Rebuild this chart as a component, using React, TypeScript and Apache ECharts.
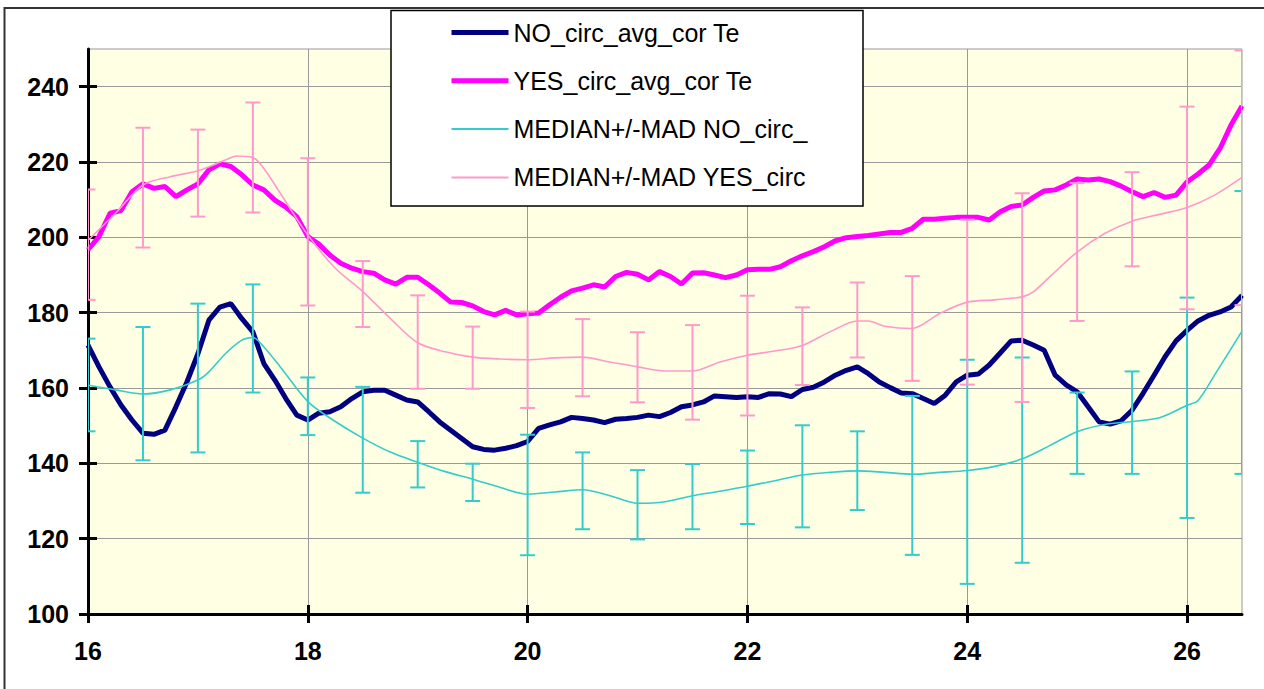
import React, { useEffect, useRef } from "react";
import * as echarts from "echarts";

const FONT = "'Liberation Sans', Arial, Helvetica, sans-serif";

// Hours of the thick average curves (16.0 .. 26.5, step 0.1)
const avgHours = [
  16.0, 16.1, 16.2, 16.3, 16.4, 16.5, 16.6, 16.7, 16.8, 16.9,
  17.0, 17.1, 17.2, 17.3, 17.4, 17.5, 17.6, 17.7, 17.8, 17.9,
  18.0, 18.1, 18.2, 18.3, 18.4, 18.5, 18.6, 18.7, 18.8, 18.9,
  19.0, 19.1, 19.2, 19.3, 19.4, 19.5, 19.6, 19.7, 19.8, 19.9,
  20.0, 20.1, 20.2, 20.3, 20.4, 20.5, 20.6, 20.7, 20.8, 20.9,
  21.0, 21.1, 21.2, 21.3, 21.4, 21.5, 21.6, 21.7, 21.8, 21.9,
  22.0, 22.1, 22.2, 22.3, 22.4, 22.5, 22.6, 22.7, 22.8, 22.9,
  23.0, 23.1, 23.2, 23.3, 23.4, 23.5, 23.6, 23.7, 23.8, 23.9,
  24.0, 24.1, 24.2, 24.3, 24.4, 24.5, 24.6, 24.7, 24.8, 24.9,
  25.0, 25.1, 25.2, 25.3, 25.4, 25.5, 25.6, 25.7, 25.8, 25.9,
  26.0, 26.1, 26.2, 26.3, 26.4, 26.5,
];

const noAvg = [
  171.4, 165.6, 160.3, 155.5, 151.5, 148.0, 147.7, 148.8, 155.0, 161.6,
  169.1, 178.0, 181.5, 182.4, 178.4, 174.9, 166.5, 162.1, 157.2, 152.8,
  151.5, 153.3, 153.7, 155.0, 157.2, 159.0, 159.4, 159.4, 158.1, 156.8,
  156.3, 153.7, 151.0, 148.8, 146.6, 144.4, 143.7, 143.5, 144.0, 144.7,
  145.8, 149.3, 150.2, 151.0, 152.2, 151.9, 151.5, 150.8, 151.7, 151.9,
  152.2, 152.8, 152.4, 153.5, 155.0, 155.5, 156.3, 157.9, 157.7, 157.5,
  157.7, 157.5, 158.5, 158.4, 157.7, 159.6, 160.2, 161.6, 163.4, 164.7,
  165.6, 163.8, 161.6, 160.1, 158.7, 158.5, 157.2, 155.9, 158.1, 161.6,
  163.4, 163.7, 166.1, 169.3, 172.5, 172.7, 171.4, 170.0, 163.4, 160.8,
  159.0, 155.0, 151.0, 150.4, 151.3, 154.1, 158.6, 163.4, 168.3, 172.5,
  175.3, 177.8, 179.3, 180.2, 181.5, 184.6,
];

const yesAvg = [
  196.7, 200.2, 206.4, 207.1, 212.1, 214.2, 213.0, 213.5, 210.8, 212.6,
  214.2, 217.9, 219.5, 218.8, 216.6, 213.9, 212.6, 209.9, 208.0, 205.5,
  200.2, 198.2, 195.3, 193.1, 191.8, 190.9, 190.5, 188.7, 187.6, 189.4,
  189.4, 187.4, 185.2, 182.8, 182.7, 181.8, 180.3, 179.4, 180.6, 179.4,
  179.7, 179.9, 182.1, 184.1, 185.8, 186.5, 187.4, 186.8, 189.6, 190.7,
  190.2, 188.7, 190.9, 189.6, 187.6, 190.5, 190.6, 190.0, 189.3, 190.0,
  191.4, 191.5, 191.5, 192.2, 193.8, 195.1, 196.2, 197.5, 199.1, 199.9,
  200.2, 200.5, 200.9, 201.3, 201.3, 202.4, 204.8, 204.8, 205.1, 205.3,
  205.3, 205.3, 204.6, 206.8, 208.2, 208.6, 210.6, 212.3, 212.6, 213.9,
  215.5, 215.2, 215.5, 214.8, 213.6, 212.1, 210.8, 211.9, 210.6, 211.2,
  214.7, 216.8, 219.2, 223.6, 229.8, 234.9,
];

// Median curves
const noMedHours = [
  16, 16.25, 16.5, 16.75, 17, 17.1, 17.25, 17.4, 17.5, 17.6, 17.75, 18, 18.25, 18.5, 18.75,
  19, 19.25, 19.5, 19.75, 20, 20.25, 20.5, 20.75, 21, 21.25, 21.5, 21.75, 22, 22.25, 22.5,
  22.75, 23, 23.25, 23.5, 23.75, 24, 24.25, 24.5, 24.75, 25, 25.25, 25.5, 25.75, 26, 26.1,
  26.25, 26.5,
];
const noMedian = [
  160.8, 159.5, 158.4, 159.5, 162.1, 164.3, 169.1, 172.7, 173.4, 170.9, 165.6, 156.4, 151.1, 146.7, 143.0,
  140.3, 137.8, 135.8, 133.6, 131.8, 132.4, 133.0, 131.4, 129.4, 129.8, 131.4, 132.6, 133.9, 135.4, 136.9,
  137.6, 138.0, 137.6, 137.1, 137.6, 138.1, 139.2, 141.2, 144.7, 148.4, 150.3, 151.1, 152.1, 155.4, 156.7,
  163.4, 175.1,
];

const yesMedHours = [
  16, 16.25, 16.5, 16.75, 17, 17.25, 17.35, 17.5, 17.6, 17.75, 18, 18.25, 18.5, 18.75, 19,
  19.25, 19.5, 19.75, 20, 20.25, 20.5, 20.75, 21, 21.25, 21.5, 21.75, 22, 22.25, 22.5, 22.75,
  23, 23.1, 23.25, 23.5, 23.75, 24, 24.25, 24.5, 24.6, 24.75, 25, 25.25, 25.5, 25.75, 26,
  26.25, 26.5,
];
const yesMedian = [
  199.2, 206.4, 213.9, 216.1, 217.7, 220.5, 221.6, 221.2, 218.3, 211.7, 200.6, 191.8, 185.6, 178.5, 172.0,
  169.6, 168.2, 167.7, 167.5, 168.0, 168.2, 166.9, 165.6, 164.5, 164.5, 166.9, 168.7, 169.8, 171.3, 174.9,
  177.8, 177.8, 176.4, 175.8, 179.8, 182.8, 183.4, 184.2, 185.5, 189.5, 196.1, 201.0, 204.3, 206.1, 207.9,
  211.2, 215.9,
];

// Error bars (median +/- MAD), every half hour
const barHours = [
  16, 16.5, 17, 17.5, 18, 18.5, 19, 19.5, 20, 20.5, 21,
  21.5, 22, 22.5, 23, 23.5, 24, 24.5, 25, 25.5, 26, 26.5,
];
const noHigh = [
  173.1, 176.2, 182.4, 187.5, 162.8, 160.3, 145.9, 139.9, 147.6, 142.9, 138.2,
  139.8, 143.4, 150.1, 148.5, 157.9, 167.5, 168.1, 158.8, 164.4, 184.0, 212.3,
];
const noLow = [
  148.5, 140.8, 142.9, 158.8, 147.5, 132.2, 133.6, 130.0, 115.6, 122.5, 119.8,
  122.5, 123.9, 123.0, 127.6, 115.7, 108.0, 113.6, 137.2, 137.2, 125.5, 137.2,
];
const yesHigh = [
  212.7, 229.1, 228.6, 235.8, 221.0, 193.7, 184.6, 176.3, 180.3, 178.3, 174.8,
  176.7, 184.5, 181.4, 188.0, 189.7, 204.7, 211.7, 214.4, 217.3, 234.7, 249.6,
];
const yesLow = [
  183.4, 197.3, 205.5, 206.6, 181.9, 176.2, 159.8, 159.8, 154.7, 157.8, 156.2,
  151.6, 152.7, 160.8, 168.1, 161.9, 160.9, 156.3, 177.8, 192.3, 180.9, 182.0,
];

const xTicks = [16, 18, 20, 22, 24, 26];
const yTicks = [100, 120, 140, 160, 180, 200, 220, 240];

const names = [
  "NO_circ_avg_cor Te",
  "YES_circ_avg_cor Te",
  "MEDIAN+/-MAD NO_circ_",
  "MEDIAN+/-MAD YES_circ",
];

const NAVY = "#000080";
const MAGENTA = "#FF00FF";
const CYAN = "#33CCCC";
const PINK = "#FF99CC";

function errorBarSeries(name: string, color: string, lo: number[], hi: number[]) {
  return {
    name,
    type: "custom",
    clip: true,
    z: 4,
    encode: { x: 0, y: [1, 2] },
    data: barHours.map((h, i) => [h, lo[i], hi[i]]),
    renderItem: (_params: any, api: any) => {
      const x = api.value(0);
      const p1 = api.coord([x, api.value(1)]);
      const p2 = api.coord([x, api.value(2)]);
      const style = { stroke: color, lineWidth: 2, fill: "none" };
      const w = 7.5;
      return {
        type: "group",
        children: [
          { type: "line", shape: { x1: p1[0], y1: p1[1], x2: p2[0], y2: p2[1] }, style },
          { type: "line", shape: { x1: p1[0] - w, y1: p1[1], x2: p1[0] + w, y2: p1[1] }, style },
          { type: "line", shape: { x1: p2[0] - w, y1: p2[1], x2: p2[0] + w, y2: p2[1] }, style },
        ],
      };
    },
  };
}

export default function App() {
  const ref = useRef<HTMLDivElement>(null);
  useEffect(() => {
    const chart = echarts.init(ref.current!, undefined, { renderer: "svg" });
    const labelStyle = {
      fontSize: 25,
      fontWeight: "bold",
      color: "#000",
      fontFamily: FONT,
    };
    chart.setOption({
      animation: false,
      backgroundColor: "#ffffff",
      grid: {
        left: 88,
        top: 49,
        right: 22,
        bottom: 75,
        show: true,
        backgroundColor: "#FFFFE3",
        borderColor: "#999999",
        borderWidth: 1,
      },
      xAxis: [
        {
          type: "value",
          min: 16,
          max: 26.5,
          interval: 2,
          position: "bottom",
          axisLine: { show: true, onZero: false, lineStyle: { color: "#000", width: 3 } },
          axisTick: { show: true, length: 9, customValues: xTicks, lineStyle: { color: "#000", width: 3 } },
          axisLabel: { ...labelStyle, margin: 24, customValues: xTicks },
          splitLine: { show: true, lineStyle: { color: "#999999", width: 1 } },
        },
        {
          type: "value",
          min: 16,
          max: 26.5,
          interval: 2,
          position: "bottom",
          axisLine: { show: false },
          axisTick: {
            show: true,
            inside: true,
            length: 9,
            customValues: xTicks.slice(1),
            lineStyle: { color: "#000", width: 3 },
          },
          axisLabel: { show: false },
          splitLine: { show: false },
        },
      ],
      yAxis: [
        {
          type: "value",
          min: 100,
          max: 250,
          interval: 20,
          position: "left",
          axisLine: { show: true, onZero: false, lineStyle: { color: "#000", width: 3 } },
          axisTick: { show: true, length: 9, customValues: yTicks, lineStyle: { color: "#000", width: 3 } },
          axisLabel: { ...labelStyle, margin: 19, customValues: yTicks },
          splitLine: { show: true, lineStyle: { color: "#999999", width: 1 } },
        },
        {
          type: "value",
          min: 100,
          max: 250,
          interval: 20,
          position: "left",
          axisLine: { show: false },
          axisTick: {
            show: true,
            inside: true,
            length: 9,
            customValues: yTicks.slice(1),
            lineStyle: { color: "#000", width: 3 },
          },
          axisLabel: { show: false },
          splitLine: { show: false },
        },
      ],
      legend: {
        orient: "vertical",
        left: 449,
        top: 18.5,
        padding: 0,
        itemWidth: 57,
        itemHeight: 2,
        itemGap: 20.3,
        selectedMode: false,
        z: 20,
        itemStyle: { opacity: 0 },
        textStyle: { fontSize: 25, fontFamily: FONT, color: "#000", lineHeight: 28 },
        data: [
          { name: names[0], lineStyle: { width: 5 } },
          { name: names[1], lineStyle: { width: 5 } },
          { name: names[2], lineStyle: { width: 2 } },
          { name: names[3], lineStyle: { width: 2 } },
        ],
      },
      graphic: [
        {
          type: "rect",
          silent: true,
          z: 30,
          shape: { x: 4.5, y: 8, width: 1400, height: 800 },
          style: { fill: "none", stroke: "#333", lineWidth: 2 },
        },
        {
          type: "rect",
          silent: true,
          z: 10,
          shape: { x: 391, y: 10.5, width: 472, height: 195.5 },
          style: { fill: "#ffffff", stroke: "#000", lineWidth: 1.5 },
        },
      ],
      series: [
        {
          name: names[0],
          type: "line",
          symbol: "none",
          showSymbol: false,
          z: 2,
          data: avgHours.map((h, i) => [h, noAvg[i]]),
          lineStyle: { color: NAVY, width: 5 },
          itemStyle: { color: NAVY },
        },
        {
          name: names[1],
          type: "line",
          symbol: "none",
          showSymbol: false,
          z: 2,
          data: avgHours.map((h, i) => [h, yesAvg[i]]),
          lineStyle: { color: MAGENTA, width: 5 },
          itemStyle: { color: MAGENTA },
        },
        {
          name: names[2],
          type: "line",
          symbol: "none",
          showSymbol: false,
          smooth: 0.3,
          z: 3,
          data: noMedHours.map((h, i) => [h, noMedian[i]]),
          lineStyle: { color: CYAN, width: 1.6 },
          itemStyle: { color: CYAN },
        },
        {
          name: names[3],
          type: "line",
          symbol: "none",
          showSymbol: false,
          smooth: 0.3,
          z: 3,
          data: yesMedHours.map((h, i) => [h, yesMedian[i]]),
          lineStyle: { color: PINK, width: 1.6 },
          itemStyle: { color: PINK },
        },
        errorBarSeries("err NO", CYAN, noLow, noHigh),
        errorBarSeries("err YES", PINK, yesLow, yesHigh),
      ],
    });
    return () => chart.dispose();
  }, []);
  return (
    <div
      ref={ref}
      style={{ position: "fixed", left: 0, top: 0, width: 1264, height: 689, background: "#fff" }}
    />
  );
}
